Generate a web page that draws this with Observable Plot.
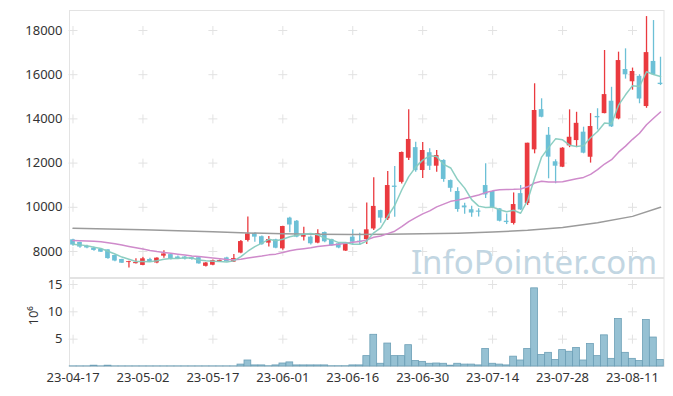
<!DOCTYPE html>
<html><head><meta charset="utf-8">
<script src="https://cdn.jsdelivr.net/npm/d3@7"></script>
<script src="https://cdn.jsdelivr.net/npm/@observablehq/plot@0.6"></script>
<style>
body{margin:0;background:#fff;}
#chart{width:673px;height:396px;overflow:hidden;position:relative;}
#chart svg{display:block;overflow:visible;}
#chart svg.main{margin-bottom:-8px;}
</style></head><body><div id="chart"></div>
<script>
const dates = ["23-04-17","23-04-18","23-04-19","23-04-20","23-04-21","23-04-24","23-04-25","23-04-26","23-04-27","23-04-28",
"23-05-02","23-05-03","23-05-04","23-05-08","23-05-09","23-05-10","23-05-11","23-05-12","23-05-15","23-05-16",
"23-05-17","23-05-18","23-05-19","23-05-22","23-05-23","23-05-24","23-05-25","23-05-26","23-05-30","23-05-31",
"23-06-01","23-06-02","23-06-05","23-06-07","23-06-08","23-06-09","23-06-12","23-06-13","23-06-14","23-06-15",
"23-06-16","23-06-19","23-06-20","23-06-21","23-06-22","23-06-23","23-06-26","23-06-27","23-06-28","23-06-29",
"23-06-30","23-07-03","23-07-04","23-07-05","23-07-06","23-07-07","23-07-10","23-07-11","23-07-12","23-07-13",
"23-07-14","23-07-17","23-07-18","23-07-19","23-07-20","23-07-21","23-07-24","23-07-25","23-07-26","23-07-27",
"23-07-28","23-07-31","23-08-01","23-08-02","23-08-03","23-08-04","23-08-07","23-08-08","23-08-09","23-08-10",
"23-08-11","23-08-14","23-08-16","23-08-17","23-08-18"];
const open = [8530,8410,8230,8150,8100,8075,7820,7640,7500,7450,7370,7640,7480,7790,7860,7750,7750,7720,7720,7330,
7380,7520,7710,7520,7930,8500,8820,8670,8380,8530,8120,9510,9370,8650,8650,8380,8860,8540,8350,8020,
8650,8470,8540,9020,9850,9480,10960,11130,12220,12700,11665,12470,11860,12120,11210,10715,10060,9890,9830,10985,
10715,9930,9370,9270,10620,10170,12600,14420,13260,12060,11815,12780,13020,13400,12265,14110,14240,14800,14000,16235,
15680,15925,14560,16600,15615];
const high = [8560,8420,8280,8200,8110,8080,7830,7650,7560,7670,7740,7700,7720,8040,7900,7800,7770,7740,7730,7500,
7620,7620,7740,7860,8500,9560,8850,8700,8680,8560,9140,9550,9400,9100,8700,8990,8880,8560,8380,8400,
8980,8830,10190,11340,9870,11620,11845,12500,14410,12945,12930,12650,12570,12150,11230,10880,10180,10050,9930,11970,
10730,9940,9700,10650,10985,12900,15590,14910,13610,12150,12700,14410,14300,13625,14240,14460,17095,15430,17020,17170,
16300,16000,18630,18450,16790];
const low = [8240,8150,8120,8010,7950,7650,7540,7460,7250,7430,7360,7500,7450,7700,7620,7640,7620,7600,7420,7300,
7360,7500,7520,7500,7900,8430,8420,8280,8200,8130,8060,8850,8620,8470,8300,8350,8400,8240,8120,8000,
8300,8300,8320,8950,9280,9400,9550,11050,12115,11590,11300,11665,11590,11135,10685,9780,9690,9550,9560,10400,
9950,9340,9220,9200,9855,10080,12420,14050,11290,11065,11800,12700,12700,12420,12000,13500,14230,13610,13960,15800,
15300,14685,14480,15965,15510];
const close = [8290,8200,8160,8050,7970,7680,7570,7470,7540,7500,7670,7520,7700,7890,7650,7670,7660,7640,7440,7480,
7590,7590,7540,7680,8450,8800,8650,8310,8540,8150,9130,9200,8650,8770,8350,8810,8440,8260,8160,8375,
8420,8420,8980,10040,9510,10985,10900,12480,13070,11660,12570,11860,12345,11260,10860,9900,9975,9740,9780,10560,
9970,9370,9310,10125,9880,12900,14380,14075,12270,11860,12675,13170,13800,12450,13655,14050,15100,13640,16640,15995,
16145,14900,17000,16000,15555];
// volume in millions of shares
const volume = [0.03,0.03,0.03,0.15,0.03,0.15,0.03,0.03,0.03,0.03,0.03,0.03,0.03,0.03,0.03,0.03,0.03,0.03,0.03,0.03,
0.03,0.03,0.03,0.03,0.35,1.1,0.2,0.2,0.05,0.2,0.55,0.75,0.2,0.2,0.2,0.2,0.2,0.05,0.05,0.05,
0.2,0.2,1.9,5.8,0.5,4.2,1.9,1.9,3.9,1.0,0.85,0.5,0.55,0.5,0.15,0.5,0.35,0.35,0.2,3.2,
0.5,0.35,0.2,1.8,1.1,3.2,14.3,2.1,2.5,1.2,3.0,2.7,3.4,1.1,4.1,1.9,5.7,1.4,8.7,2.5,
1.4,1.0,8.5,5.3,1.2];
// moving averages
const ma5 = [8330,8300,8260,8190,8134,8012,7886,7748,7646,7550,7548,7538,7584,7654,7686,7686,7714,7702,7612,7578,
7562,7548,7528,7576,7770,8012,8224,8378,8550,8490,8556,8666,8734,8780,8820,8756,8604,8526,8404,8409,
8331,8327,8471,8847,9074,9587,10083,10783,11389,11819,12136,12328,12301,11939,11779,11245,10868,10347,10053,9993,
10007,9886,9800,9867,9731,10317,11319,12272,12701,13097,13052,12810,12755,12791,13150,13430,13816,13784,14622,15090,
15504,15464,16136,16008,15919];
const ma20 = [8500,8490,8480,8460,8440,8400,8350,8290,8230,8170,8110,8050,8000,7960,7920,7880,7840,7800,7770,7737,
7702,7672,7641,7622,7646,7702,7756,7798,7848,7881,7954,8038,8086,8130,8165,8222,8261,8292,8328,8372,
8414,8455,8527,8645,8698,8808,8920,9129,9355,9531,9703,9836,10020,10145,10270,10325,10402,10476,10557,10666,
10744,10791,10808,10812,10831,10926,11100,11180,11140,11150,11155,11221,11294,11353,11493,11702,11958,12153,12495,12767,
13076,13352,13737,14031,14314];
const maLongIdx = [0,5,10,15,20,25,30,35,40,45,50,55,60,65,70,75,80,84];
const maLongVal = [9050,9020,8980,8940,8890,8840,8800,8780,8770,8780,8800,8830,8880,8960,9090,9300,9590,10000];
const yTicks = [8000,10000,12000,14000,16000,18000];
const volTicks = [5,10,15];

const RED = "#ea3a3f", BLUE = "#6cc0d6";
const rows = dates.map((d,i)=>({d,o:open[i],h:high[i],l:low[i],c:close[i],v:volume[i],m5:ma5[i],m20:ma20[i],
  col: close[i] >= open[i] ? RED : BLUE}));
const longRows = maLongIdx.map((i,k)=>({d:dates[i], m:maLongVal[k]}));
const xTicks = dates.filter((d,i)=>i%10===0);
const grid = xTicks.flatMap(x=>yTicks.map(y=>({x,y})));
const vgrid = xTicks.flatMap(x=>volTicks.map(y=>({x,y})));
const style = {fontFamily:"'Noto Sans', sans-serif", fontSize:"13px", color:"#333", background:"#fff"};

const main = Plot.plot({
  width:673, height:277, marginTop:10, marginBottom:0, marginLeft:69, marginRight:9.5,
  className:"main",
  style,
  color:{type:"identity"},
  x:{type:"band", domain:dates, paddingInner:0.33, paddingOuter:0.165, axis:null},
  y:{domain:[6824,18905], ticks:yTicks, tickSize:0, tickPadding:7, tickFormat:d=>String(d), label:null},
  marks:[
    Plot.frame({stroke:"#e3e3e3"}),
    Plot.dot(grid,{x:"x",y:"y",symbol:"plus",r:3,stroke:"#e2e2e2",strokeWidth:1}),
    Plot.text(["InfoPointer.com"],{frameAnchor:"bottom-right",textAnchor:"end",lineAnchor:"bottom",dx:-7,dy:-4,fontSize:33,fill:"#c2d6e2"}),
    Plot.ruleX(rows,{x:"d",y1:"l",y2:"h",stroke:"col",strokeWidth:1.3}),
    Plot.barY(rows,{x:"d",y1:"o",y2:"c",fill:"col"}),
    Plot.line(longRows,{x:"d",y:"m",stroke:"#9b9b9b",strokeWidth:1.5}),
    Plot.line(rows,{x:"d",y:"m20",stroke:"#cf8bcb",strokeWidth:1.5}),
    Plot.line(rows,{x:"d",y:"m5",stroke:"#86cbbf",strokeWidth:1.5,strokeOpacity:0.95})
  ]
});
main.classList.add("main");

const vol = Plot.plot({
  width:673, height:127, marginTop:9, marginBottom:30, marginLeft:69, marginRight:9.5,
  style:{...style, background:"transparent"},
  x:{type:"band", domain:dates, padding:0.03, ticks:xTicks, tickSize:0, tickPadding:6, label:null},
  y:{domain:[0,16.1], ticks:volTicks, tickSize:0, tickPadding:7, label:null},
  marks:[
    Plot.frame({stroke:"#e3e3e3"}),
    Plot.dot(vgrid,{x:"x",y:"y",symbol:"plus",r:3,stroke:"#e2e2e2",strokeWidth:1}),
    Plot.barY(rows,{x:"d",y:"v",fill:"#96c1d3",stroke:"#6c9fb6",strokeWidth:0.8}),
    Plot.text(["10⁶"],{frameAnchor:"left",dx:-36,dy:3,rotate:-90,fontSize:13,fill:"#333"})
  ]
});

const el = document.getElementById("chart");
el.appendChild(main);
el.appendChild(vol);
</script></body></html>
